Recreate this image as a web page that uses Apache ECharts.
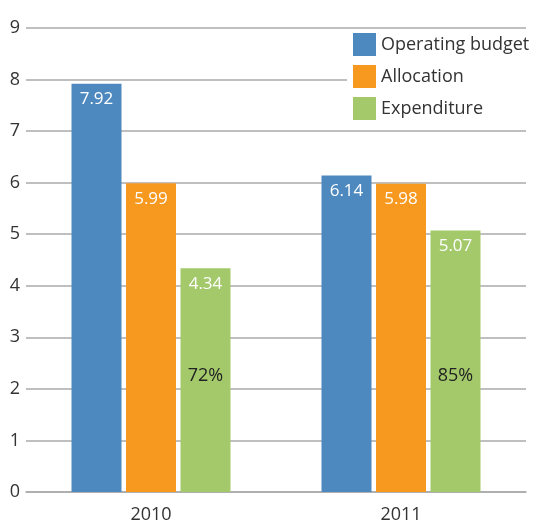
<!DOCTYPE html>
<html>
<head>
<meta charset="utf-8">
<title>Budget</title>
<script src="https://cdn.jsdelivr.net/npm/echarts@6/dist/echarts.min.js"></script>
<style>
  html, body { margin: 0; padding: 0; background: #fff; }
  #chart { width: 535px; height: 524px; }
</style>
</head>
<body>
<div id="chart"></div>
<script>
// data
var years = ['2010', '2011'];
var operatingBudget = [7.92, 6.14];
var allocation = [5.99, 5.98];
var expenditure = [4.34, 5.07];
var spentPct = ['72%', '85%'];
var yTicks = [0, 9, 1]; // min, max, step

var font = 'Open Sans';
var chart = echarts.init(document.getElementById('chart'));

function valueLabel() {
    return {
        show: true,
        position: 'insideTop',
        distance: 7,
        color: '#fff',
        fontFamily: font,
        fontSize: 17,
        formatter: function (p) { return p.value.toFixed(2); }
    };
}

chart.setOption({
    animation: false,
    textStyle: { fontFamily: font },
    color: ['#4d89bf', '#f7981f', '#a3c96b'],
    grid: { left: 26, right: 9, top: 28, bottom: 30 },
    legend: {
        data: ['Operating budget', 'Allocation', 'Expenditure'],
        orient: 'vertical',
        left: 347,
        top: 31,
        padding: [2, 6, 2, 6],
        backgroundColor: '#fff',
        itemWidth: 23,
        itemHeight: 23,
        itemGap: 9,
        icon: 'rect',
        textStyle: { fontFamily: font, fontSize: 18, color: '#333' }
    },
    xAxis: [{
        type: 'category',
        data: years,
        axisLine: { lineStyle: { color: '#aaa', width: 1.5 } },
        axisTick: { show: false },
        axisLabel: { fontFamily: font, fontSize: 18, color: '#333', margin: 14 }
    }, {
        type: 'category',
        data: years,
        show: false
    }],
    yAxis: {
        type: 'value',
        min: yTicks[0],
        max: yTicks[1],
        interval: yTicks[2],
        axisLine: { show: false },
        axisTick: { show: false },
        axisLabel: { fontFamily: font, fontSize: 18, color: '#333', margin: 6 },
        splitLine: { lineStyle: { color: '#aaa', width: 1.5 } }
    },
    series: [
        { name: 'Operating budget', type: 'bar', barWidth: 50, barGap: '9%', data: operatingBudget, label: valueLabel() },
        { name: 'Allocation', type: 'bar', barWidth: 50, barGap: '9%', data: allocation, label: valueLabel() },
        { name: 'Expenditure', type: 'bar', barWidth: 50, barGap: '9%', data: expenditure, label: valueLabel() },
        // hidden slots on the second axis so the percent labels sit on the green bars
        { name: 'slotA', type: 'bar', xAxisIndex: 1, barWidth: 50, barGap: '9%', data: ['-', '-'], silent: true },
        { name: 'slotB', type: 'bar', xAxisIndex: 1, barWidth: 50, barGap: '9%', data: ['-', '-'], silent: true },
        {
            name: 'pct', type: 'bar', xAxisIndex: 1, barWidth: 50, barGap: '9%',
            data: expenditure, silent: true, z: 5,
            itemStyle: { color: 'rgba(0,0,0,0)' },
            label: {
                show: true,
                position: 'insideBottom',
                distance: 107,
                color: '#222',
                fontFamily: font,
                fontSize: 18,
                formatter: function (p) { return spentPct[p.dataIndex]; }
            }
        }
    ]
});
</script>
</body>
</html>
